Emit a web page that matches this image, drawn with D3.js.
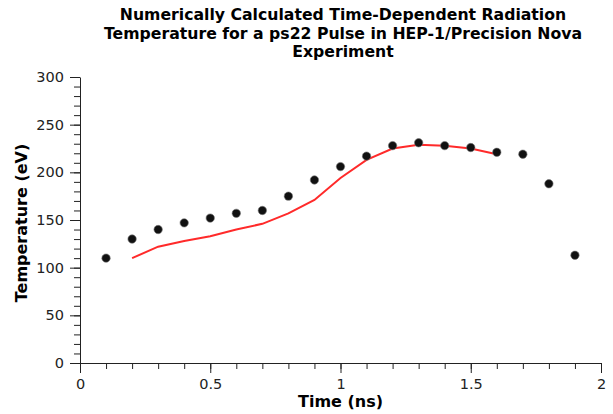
<!DOCTYPE html>
<html>
<head>
<meta charset="utf-8">
<script src="https://cdn.jsdelivr.net/npm/d3@7"></script>
<style>
  body { margin: 0; background: #fff; }
  text { font-family: "DejaVu Sans", sans-serif; }
</style>
</head>
<body>
<div id="viz"></div>
<script>
let w = 613;
let h = 414;
let margin = {top: 77, right: 12, bottom: 51, left: 80};

// measured points (black dots)
let pointTime = [0.1, 0.2, 0.3, 0.4, 0.5, 0.6, 0.7, 0.8, 0.9, 1.0, 1.1, 1.2, 1.3, 1.4, 1.5, 1.6, 1.7, 1.8, 1.9];
let pointTemp = [110, 130, 140, 147, 152, 157, 160, 175, 192, 206, 217, 228, 231, 228, 226, 221, 219, 188, 113];

// calculated curve (red line)
let lineTime = [0.2, 0.3, 0.4, 0.5, 0.6, 0.7, 0.8, 0.9, 1.0, 1.1, 1.2, 1.3, 1.4, 1.5, 1.6];
let lineTemp = [110, 122, 128, 133, 140, 146, 157, 171, 194, 213, 225, 229, 228, 225, 219];

let titleLines = ["Numerically Calculated Time-Dependent Radiation",
                  "Temperature for a ps22 Pulse in HEP-1/Precision Nova",
                  "Experiment"];

let svg = d3.select("#viz").append("svg")
    .attr("width", w)
    .attr("height", h);

let x = d3.scaleLinear().domain([0, 2]).range([margin.left, w - margin.right]);
let y = d3.scaleLinear().domain([0, 300]).range([h - margin.bottom, margin.top]);

// minor ticks
svg.append("g")
    .attr("transform", "translate(0," + (h - margin.bottom) + ")")
    .call(d3.axisBottom(x).tickValues(d3.range(0, 2.01, 0.1)).tickSize(6).tickFormat(""))
    .call(g => g.select(".domain").remove());
svg.append("g")
    .attr("transform", "translate(" + margin.left + ",0)")
    .call(d3.axisLeft(y).tickValues(d3.range(0, 301, 10)).tickSize(6).tickFormat(""))
    .call(g => g.select(".domain").remove());

// major ticks
svg.append("g")
    .attr("transform", "translate(0," + (h - margin.bottom) + ")")
    .call(d3.axisBottom(x).tickValues([0, 0.5, 1, 1.5, 2]).tickSize(10).tickSizeOuter(0).tickPadding(6).tickFormat(d3.format("")));
svg.append("g")
    .attr("transform", "translate(" + margin.left + ",0)")
    .call(d3.axisLeft(y).tickValues(d3.range(0, 301, 50)).tickSize(10).tickSizeOuter(0).tickPadding(6));

svg.selectAll(".tick text")
    .attr("font-size", "14.5px")
    .attr("font-family", "DejaVu Sans")
    .attr("fill", "#222");
svg.selectAll(".domain, .tick line").attr("stroke", "#222");

// red curve
let line = d3.line()
    .x((d, i) => x(lineTime[i]))
    .y(d => y(d));
svg.append("path")
    .datum(lineTemp)
    .attr("d", line)
    .attr("fill", "none")
    .attr("stroke", "#ff2a2a")
    .attr("stroke-width", 2);

// points
svg.append("g").selectAll("circle")
    .data(pointTemp)
    .join("circle")
    .attr("cx", (d, i) => x(pointTime[i]))
    .attr("cy", d => y(d))
    .attr("r", 4.2)
    .attr("fill", "#111")
    .attr("stroke", "#777")
    .attr("stroke-width", 0.6);

// title
svg.append("text")
    .attr("text-anchor", "middle")
    .attr("font-weight", "bold")
    .attr("font-size", "15.7px")
    .selectAll("tspan")
    .data(titleLines)
    .join("tspan")
    .attr("x", 343)
    .attr("y", (d, i) => 20 + i * 18.5)
    .text(d => d);

// axis titles
svg.append("text")
    .attr("x", (margin.left + w - margin.right) / 2)
    .attr("y", 407)
    .attr("text-anchor", "middle")
    .attr("font-weight", "bold")
    .attr("font-size", "16px")
    .text("Time (ns)");

svg.append("text")
    .attr("transform", "translate(27," + ((margin.top + h - margin.bottom) / 2 + 3) + ") rotate(-90)")
    .attr("text-anchor", "middle")
    .attr("font-weight", "bold")
    .attr("font-size", "16px")
    .text("Temperature (eV)");
</script>
</body>
</html>
